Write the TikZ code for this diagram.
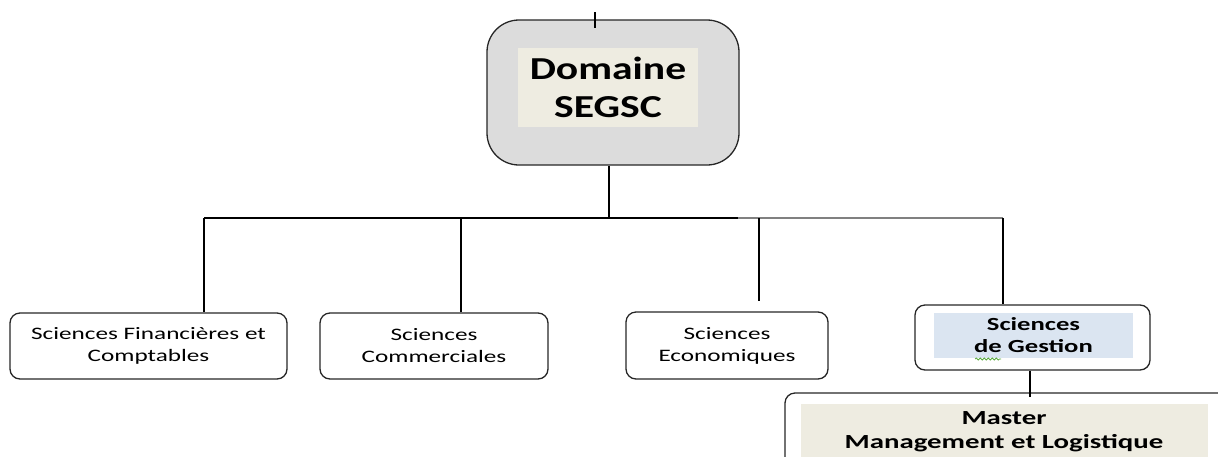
\documentclass[tikz,border=0pt]{standalone}
\usepackage{fontspec}
\setmainfont{Carlito}
\usetikzlibrary{decorations.pathmorphing}

\definecolor{boxgray}{RGB}{220,220,220}
\definecolor{beige}{RGB}{238,236,225}
\definecolor{paleblue}{RGB}{219,229,241}
\definecolor{spellgreen}{RGB}{90,170,60}

\tikzset{
  unit/.style={draw=black!85, line width=1.3pt, rounded corners=10pt},
  link/.style={line width=1.2pt},
  lbl/.style={font=\fontsize{17.5}{22}\selectfont, align=center, xscale=1.44, transform shape},
  lblb/.style={lbl, font=\fontsize{18.5}{22}\selectfont\bfseries},
}

\begin{document}
\begin{tikzpicture}[x=1pt, y=-1pt]
    \useasboundingbox (0,0) rectangle (1218,456);

    % Draw the domain box
    \node[unit, rounded corners=32pt, fill=boxgray, minimum width=252pt, minimum height=145pt] (domaine) at (613,92.5) {};
    \node[fill=beige, minimum width=180pt, minimum height=79pt] (domfill) at (608,87.5) {};
    \node[font=\fontsize{32}{38}\selectfont\bfseries, align=center, xscale=1.3, transform shape] (domtxt) at (domfill.center) {Domaine\\SEGSC};
    \coordinate (stub) at (595,12);
    \draw[link] (stub) -- (stub |- 0,28);

    % Draw the four sciences
    \node[unit, minimum width=277pt, minimum height=66pt] (sfc) at (148.5,346) {};
    \node[lbl] (sfctxt) at (sfc.center) {Sciences Financières et\\Comptables};
    \node[unit, minimum width=228pt, minimum height=66pt] (scom) at (434,346) {};
    \node[lbl] (scomtxt) at (scom.center) {Sciences\\Commerciales};
    \node[unit, minimum width=202pt, minimum height=67pt] (seco) at (727,345.5) {};
    \node[lbl] (secotxt) at (seco.center) {Sciences\\Economiques};
    \node[unit, minimum width=235pt, minimum height=65pt] (sges) at (1032.5,337.5) {};
    \node[fill=paleblue, minimum width=199pt, minimum height=45pt] (sgesfill) at (1033.5,335.5) {};
    \node[lblb] (sgestxt) at (sgesfill.center) {Sciences\\de Gestion};
    \draw[spellgreen, line width=0.8pt, decorate, decoration={snake, amplitude=1pt, segment length=4pt}]
        (975,359) -- (1001,359);

    % Draw the master
    \node[unit, minimum width=555pt, minimum height=107pt] (master) at (1062.5,446.5) {};
    \node[fill=beige, minimum width=407pt, minimum height=60pt, anchor=north west] (masterfill) at (801,404) {};
    \node[lblb, font=\fontsize{20}{24}\selectfont\bfseries] (mastertxt) at (1004,432) {Master\\Management et Logistique};

    % Draw the tree lines
    \coordinate (b1) at (204,218);
    \coordinate (b2) at (461,218);
    \coordinate (b3) at (759,218);
    \coordinate (b4) at (1003,218);
    \draw[link] ([xshift=-4pt]domaine.south) -- ([xshift=-4pt]domaine.south |- b1);
    \draw[link] (b1) -- (738,218);
    \draw[link, black!50, line width=1.8pt] (738,218) -- (b4);
    \draw[link] (b1) -- (b1 |- sfc.north);
    \draw[link] (b2) -- (b2 |- scom.north);
    \draw[link] (b3) -- ([yshift=10pt]b3 |- seco.north);
    \draw[link] (b4) -- (b4 |- sges.north);
    \draw[link] ([xshift=-2.5pt]sges.south) -- ([xshift=-2.5pt, yshift=-5pt]sges.south |- master.north);
\end{tikzpicture}
\end{document}
